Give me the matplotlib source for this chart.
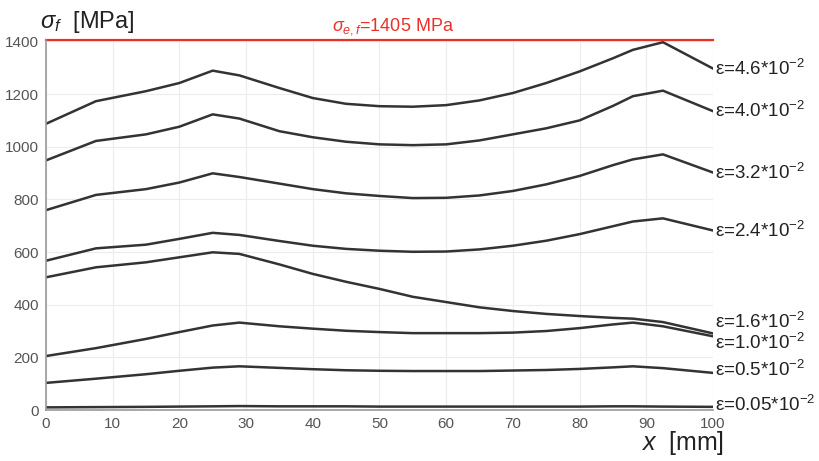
import numpy as np
import matplotlib
matplotlib.use("Agg")
import matplotlib.pyplot as plt

plt.rcParams['font.family'] = ['Liberation Sans', 'DejaVu Sans']
plt.rcParams['mathtext.fontset'] = 'custom'
plt.rcParams['mathtext.rm'] = 'Liberation Sans'
plt.rcParams['mathtext.it'] = 'Liberation Sans:italic'

# positions along specimen [mm]
x_mm = [0, 7.5, 15, 20, 25, 29, 35, 40, 45, 50, 55, 60, 65, 70, 75, 80, 85, 88, 92.5, 100]

# flow stress [MPa] for each strain level
s_46 = [1087, 1173, 1211, 1242, 1289, 1271, 1223, 1185, 1163, 1154, 1152, 1158, 1176, 1204, 1242, 1286, 1336, 1368, 1397, 1297]
s_40 = [948, 1022, 1047, 1076, 1123, 1107, 1059, 1036, 1019, 1009, 1006, 1009, 1024, 1047, 1070, 1100, 1155, 1192, 1213, 1135]
s_32 = [759, 817, 839, 864, 899, 885, 860, 839, 823, 813, 805, 806, 815, 832, 857, 889, 930, 952, 971, 902]
s_24 = [567, 614, 628, 650, 673, 665, 642, 624, 612, 605, 601, 602, 610, 624, 643, 668, 698, 716, 728, 682]
s_16 = [504, 542, 561, 580, 599, 593, 553, 517, 487, 460, 430, 410, 390, 376, 365, 357, 350, 347, 334, 291]
s_10 = [205, 235, 270, 296, 321, 332, 318, 309, 301, 296, 292, 292, 292, 294, 300, 311, 325, 332, 318, 280]
s_05 = [103, 119, 136, 149, 161, 166, 160, 155, 151, 149, 148, 148, 148, 150, 152, 156, 162, 166, 159, 141]
s_005 = [10, 11, 12, 13, 14, 15, 14, 14, 14, 13, 13, 13, 13, 13, 13, 13, 14, 14, 13, 12]

curves = [s_46, s_40, s_32, s_24, s_16, s_10, s_05, s_005]
eps_labels = ['4.6', '4.0', '3.2', '2.4', '1.6', '1.0', '0.5', '0.05']
label_y = [1294, 1135, 902, 681, 334, 255, 151, 19]

sigma_ef = 1405

fig = plt.figure(figsize=(8.2, 4.61), dpi=100)
ax = fig.add_axes([0.056, 0.1106, 0.8135, 0.8024])

for s in curves:
    ax.plot(x_mm, s, color='#333333', lw=1.8)

ax.axhline(sigma_ef, color='#e8312a', lw=1.6, clip_on=False)
ax.text(52, 1455, r'$\sigma_{e,f}$=1405 MPa', color='#e8312a', fontsize=13,
        ha='center', va='center')

for s, lab, ly in zip(curves, eps_labels, label_y):
    ax.annotate('ε=' + lab + '*10$^{\\mathregular{-2}}$', xy=(100, s[-1]),
                xytext=(100.3, ly), fontsize=13.5, va='center', ha='left',
                color='#222222', annotation_clip=False)

ax.set_xlim(0, 100)
ax.set_ylim(0, 1405)
ax.set_xticks(np.arange(0, 101, 10))
ax.set_yticks(np.arange(0, 1401, 200))
ax.grid(True, color='#ececec', lw=0.8)
ax.set_axisbelow(True)
for side in ['top', 'right']:
    ax.spines[side].set_visible(False)
for side in ['left', 'bottom']:
    ax.spines[side].set_color('#999999')
    ax.spines[side].set_linewidth(1.2)
ax.tick_params(colors='#555555', labelsize=11, length=0, pad=5)

fig.text(0.049, 0.952, r'$\sigma_f$  [MPa]', fontsize=17, color='#222222',
         ha='left', va='center')
fig.text(0.782, 0.04, r'$x$  [mm]', fontsize=18, color='#222222',
         ha='left', va='center')

fig.savefig('out.png', dpi=100)
